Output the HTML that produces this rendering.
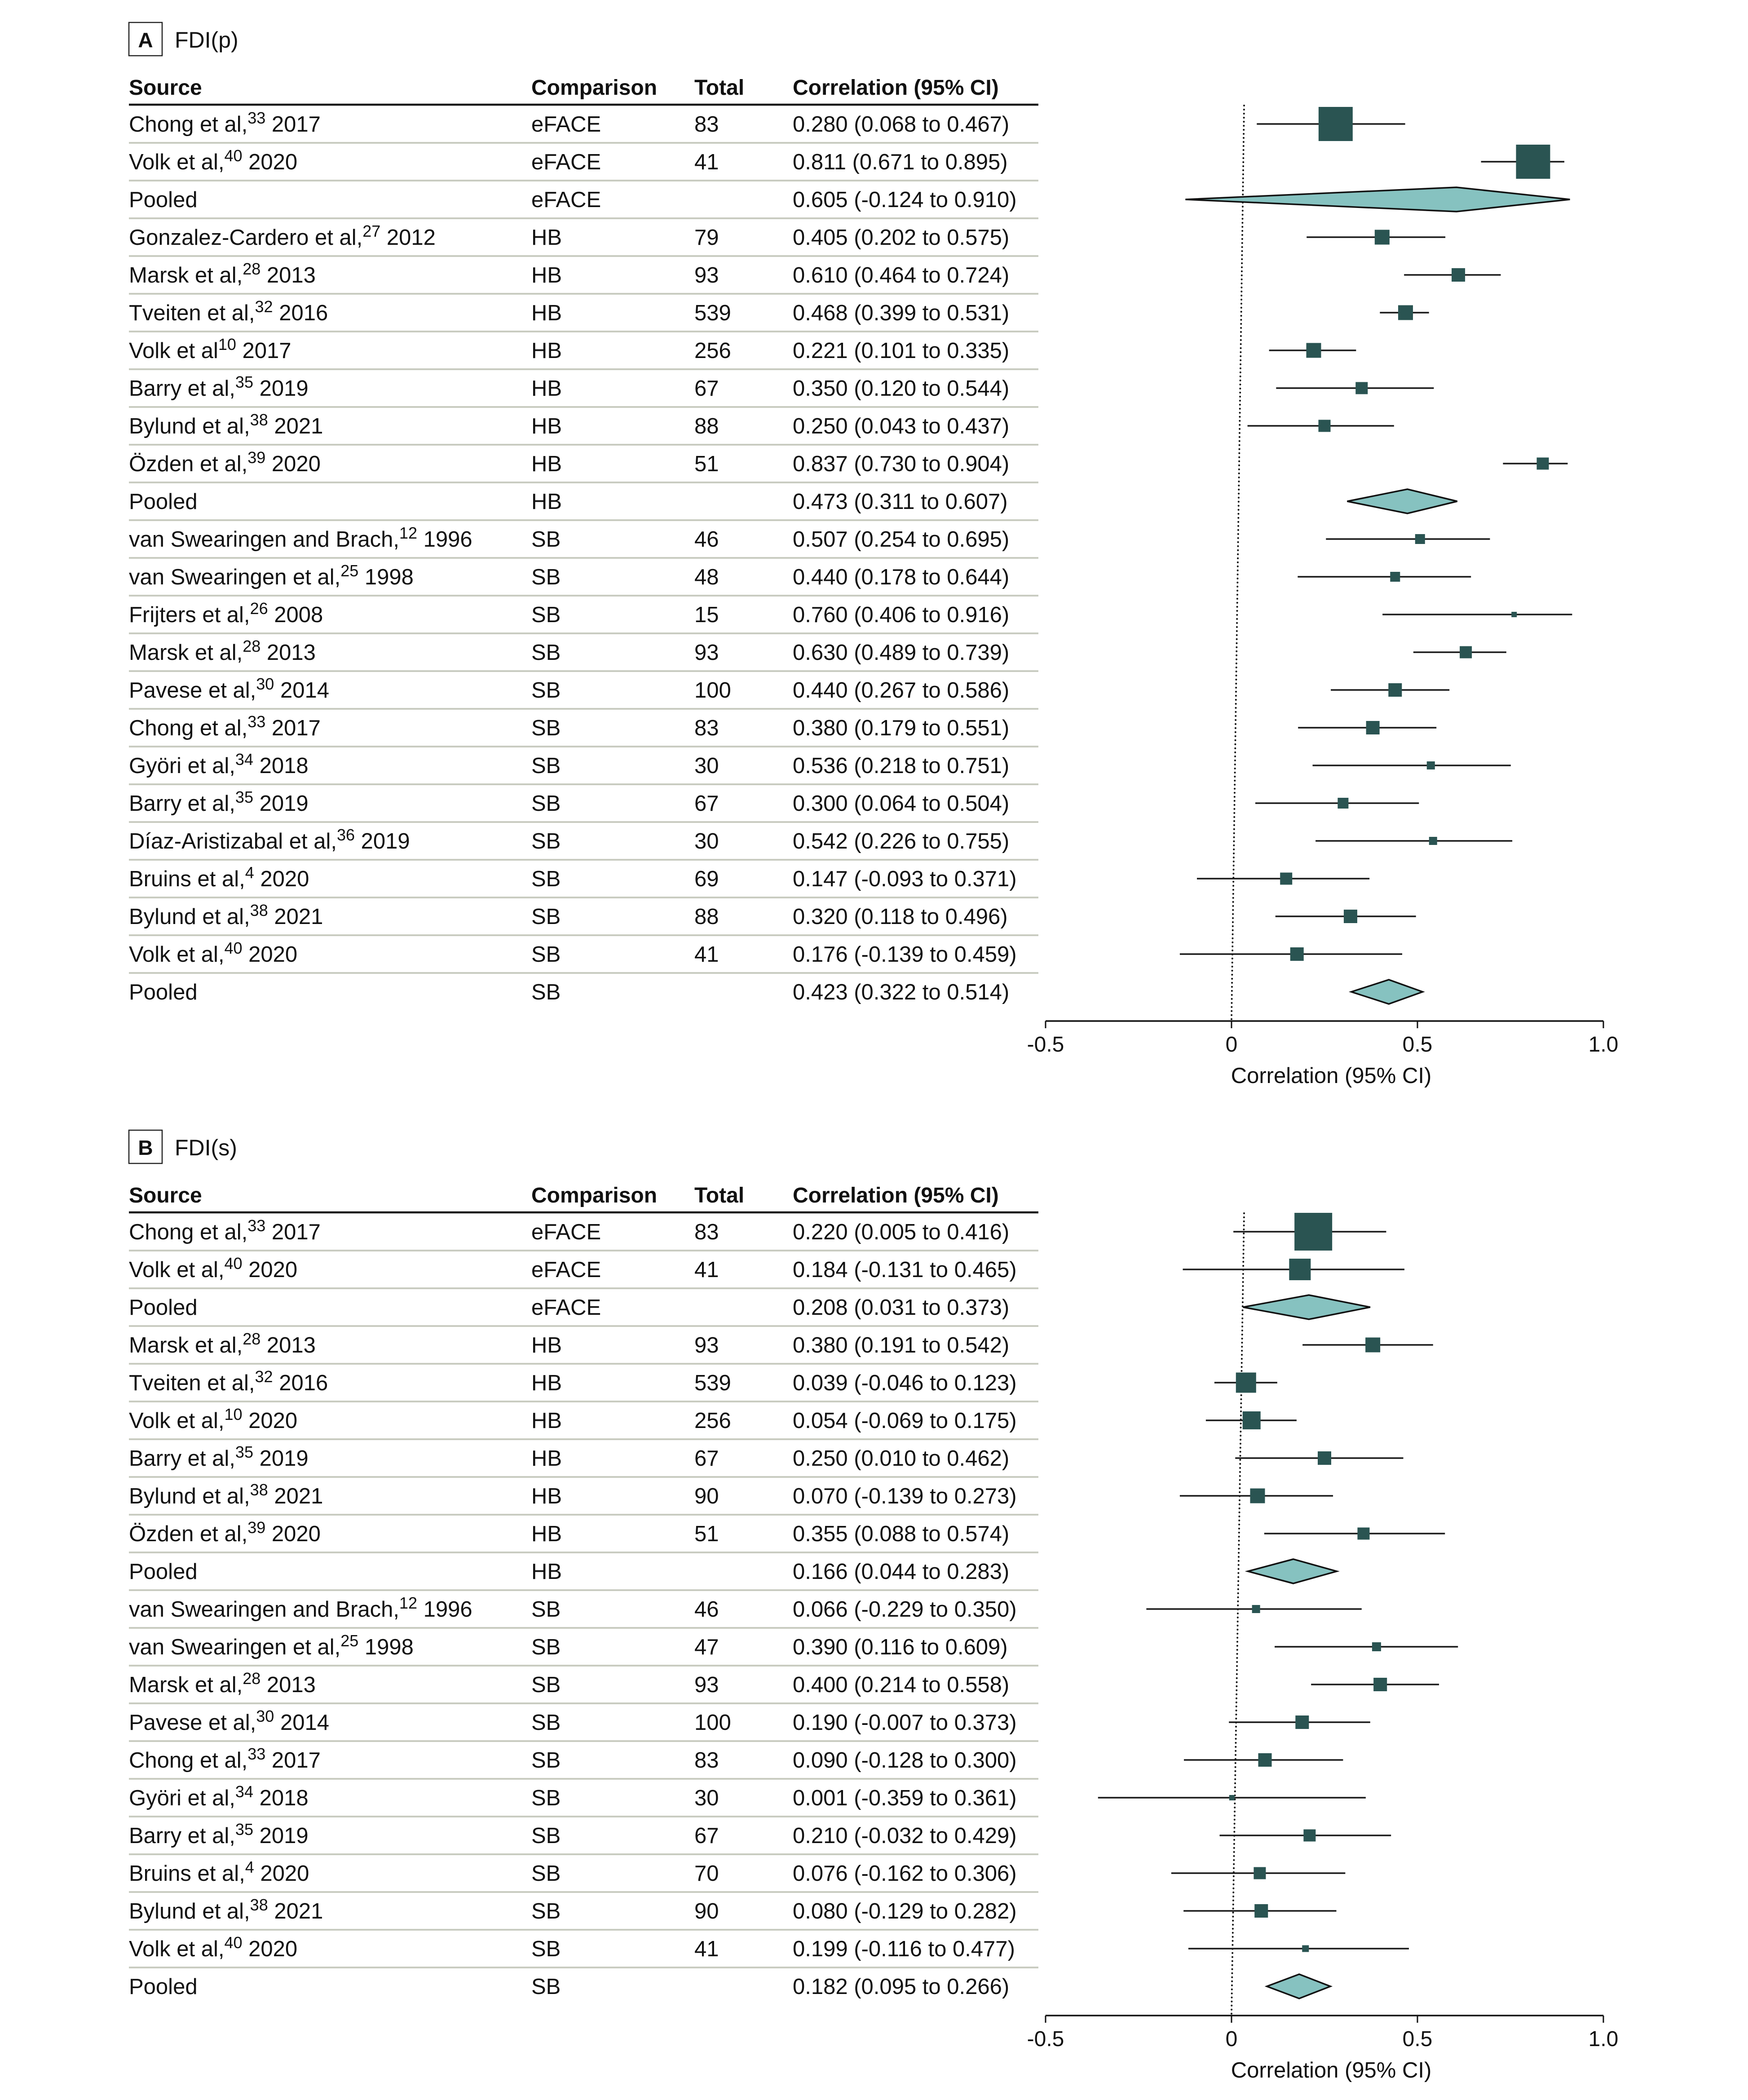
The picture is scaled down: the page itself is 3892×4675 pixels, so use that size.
<!DOCTYPE html>
<html><head><meta charset="utf-8">
<style>
html,body{margin:0;padding:0;background:#fff;}
svg{display:block;}
text{font-family:"Liberation Sans",sans-serif;fill:#111;}
</style></head>
<body>
<svg id="fig" width="3892" height="4675" viewBox="0 0 3892 4675" xmlns="http://www.w3.org/2000/svg"></svg>
<script>
// ===== Panel A data: FDI(p) =====
const aSources = ["Chong et al,|33| 2017","Volk et al,|40| 2020","Pooled","Gonzalez-Cardero et al,|27| 2012","Marsk et al,|28| 2013","Tveiten et al,|32| 2016","Volk et al|10| 2017","Barry et al,|35| 2019","Bylund et al,|38| 2021","Özden et al,|39| 2020","Pooled","van Swearingen and Brach,|12| 1996","van Swearingen et al,|25| 1998","Frijters et al,|26| 2008","Marsk et al,|28| 2013","Pavese et al,|30| 2014","Chong et al,|33| 2017","Györi et al,|34| 2018","Barry et al,|35| 2019","Díaz-Aristizabal et al,|36| 2019","Bruins et al,|4| 2020","Bylund et al,|38| 2021","Volk et al,|40| 2020","Pooled"];
const aComparisons = ["eFACE","eFACE","eFACE","HB","HB","HB","HB","HB","HB","HB","HB","SB","SB","SB","SB","SB","SB","SB","SB","SB","SB","SB","SB","SB"];
const aTotals = ["83","41","","79","93","539","256","67","88","51","","46","48","15","93","100","83","30","67","30","69","88","41",""];
const aEst = [0.280,0.811,0.605,0.405,0.610,0.468,0.221,0.350,0.250,0.837,0.473,0.507,0.440,0.760,0.630,0.440,0.380,0.536,0.300,0.542,0.147,0.320,0.176,0.423];
const aLo  = [0.068,0.671,-0.124,0.202,0.464,0.399,0.101,0.120,0.043,0.730,0.311,0.254,0.178,0.406,0.489,0.267,0.179,0.218,0.064,0.226,-0.093,0.118,-0.139,0.322];
const aHi  = [0.467,0.895,0.910,0.575,0.724,0.531,0.335,0.544,0.437,0.904,0.607,0.695,0.644,0.916,0.739,0.586,0.551,0.751,0.504,0.755,0.371,0.496,0.459,0.514];
const aPooled = [0,0,1,0,0,0,0,0,0,0,1,0,0,0,0,0,0,0,0,0,0,0,0,1];
const aWeight = [76,76,0,33,30,33,33,27,27,27,0,22,22,12,27,30,30,18,24,18,27,30,30,0];

// ===== Panel B data: FDI(s) =====
const bSources = ["Chong et al,|33| 2017","Volk et al,|40| 2020","Pooled","Marsk et al,|28| 2013","Tveiten et al,|32| 2016","Volk et al,|10| 2020","Barry et al,|35| 2019","Bylund et al,|38| 2021","Özden et al,|39| 2020","Pooled","van Swearingen and Brach,|12| 1996","van Swearingen et al,|25| 1998","Marsk et al,|28| 2013","Pavese et al,|30| 2014","Chong et al,|33| 2017","Györi et al,|34| 2018","Barry et al,|35| 2019","Bruins et al,|4| 2020","Bylund et al,|38| 2021","Volk et al,|40| 2020","Pooled"];
const bComparisons = ["eFACE","eFACE","eFACE","HB","HB","HB","HB","HB","HB","HB","SB","SB","SB","SB","SB","SB","SB","SB","SB","SB","SB"];
const bTotals = ["83","41","","93","539","256","67","90","51","","46","47","93","100","83","30","67","70","90","41",""];
const bEst = [0.220,0.184,0.208,0.380,0.039,0.054,0.250,0.070,0.355,0.166,0.066,0.390,0.400,0.190,0.090,0.001,0.210,0.076,0.080,0.199,0.182];
const bLo  = [0.005,-0.131,0.031,0.191,-0.046,-0.069,0.010,-0.139,0.088,0.044,-0.229,0.116,0.214,-0.007,-0.128,-0.359,-0.032,-0.162,-0.129,-0.116,0.095];
const bHi  = [0.416,0.465,0.373,0.542,0.123,0.175,0.462,0.273,0.574,0.283,0.350,0.609,0.558,0.373,0.300,0.361,0.429,0.306,0.282,0.477,0.266];
const bPooled = [0,0,1,0,0,0,0,0,0,1,0,0,0,0,0,0,0,0,0,0,1];
const bWeight = [84,48,0,33,45,40,30,33,27,0,18,20,30,30,30,12,27,27,30,15,0];

const axisTicks = [-0.5,0,0.5,1.0];
const axisTickLabels = ["-0.5","0","0.5","1.0"];

const NS = "http://www.w3.org/2000/svg";
const svg = document.getElementById('fig');
const X0 = 2742, UNIT = 828;
function xScale(v){ return X0 + v*UNIT; }
const ROW = 84.0;
function el(tag, attrs, parent){
  const e = document.createElementNS(NS, tag);
  for (const k in attrs) e.setAttribute(k, attrs[k]);
  (parent||svg).appendChild(e);
  return e;
}
function fmt(v){ return v.toFixed(3); }

function drawPanel(offY, letter, title, src, cmp, tot, est, lo, hi, pooled, wt, name){
  const g = el('g', {});
  
  
  const box = el('rect', {x:287, y:offY+50, width:74, height:74, fill:'none', stroke:'#222', 'stroke-width':2.5}, g);
  
  
  const lt = el('text', {x:324, y:offY+105, 'font-size':46, 'font-weight':'bold', 'text-anchor':'middle'}, g);
  lt.textContent = letter;
  
  
  const tt = el('text', {x:389, y:offY+106, 'font-size':50}, g);
  tt.textContent = title;
  
  
  const heads = [["Source",287],["Comparison",1183],["Total",1546],["Correlation (95% CI)",1765]];
  heads.forEach(h=>{
    const t = el('text', {x:h[1], y:offY+211, 'font-size':48, 'font-weight':'bold'}, g);
    t.textContent = h[0];
    
    
  });
  const rule = el('line', {x1:287, x2:2312, y1:offY+233, y2:offY+233, stroke:'#111', 'stroke-width':4.5}, g);
  
  
  const n = src.length;
  const firstY = offY + 276;
  const axisY = firstY + (n-1)*ROW + 65;
  const nl = el('line', {x1:X0+28, y1:offY+235, x2:X0, y2:axisY-4, stroke:'#111', 'stroke-width':4, 'stroke-dasharray':'0 9', 'stroke-linecap':'round'}, g);
  
  
  for (let i=0;i<n;i++){
    const cy = firstY + i*ROW;
    if (i<n-1){
      const s = el('line', {x1:287, x2:2312, y1:cy+42, y2:cy+42, stroke:'#c9ccc1', 'stroke-width':4}, g);
      
      
    }
    const parts = src[i].split('|');
    const st = el('text', {x:287, y:cy+17, 'font-size':49}, g);
    
    
    const t1 = el('tspan', {}, st); t1.textContent = parts[0];
    if (parts.length>1){
      const t2 = el('tspan', {'font-size':36, dy:-18}, st); t2.textContent = parts[1];
      const t3 = el('tspan', {dy:18}, st); t3.textContent = parts[2];
    }
    const ct = el('text', {x:1183, y:cy+17, 'font-size':49}, g);
    ct.textContent = cmp[i];
    
    
    const tn = el('text', {x:1546, y:cy+17, 'font-size':49}, g);
    tn.textContent = tot[i];
    
    
    const ci = el('text', {x:1765, y:cy+17, 'font-size':49}, g);
    ci.textContent = fmt(est[i]) + ' (' + fmt(lo[i]) + ' to ' + fmt(hi[i]) + ')';
    
    
    if (pooled[i]){
      const pts = [[xScale(lo[i]),cy],[xScale(est[i]),cy-27],[xScale(hi[i]),cy],[xScale(est[i]),cy+27]];
      const d = el('polygon', {points:pts.map(p=>p.join(',')).join(' '), fill:'#86c2c0', stroke:'#111', 'stroke-width':3.5, 'stroke-linejoin':'miter'}, g);
      
      
    } else {
      const l = el('line', {x1:xScale(lo[i]), x2:xScale(hi[i]), y1:cy, y2:cy, stroke:'#1a1a1a', 'stroke-width':3.5}, g);
      
      
      const w = wt[i];
      const r = el('rect', {x:xScale(est[i])-w/2, y:cy-w/2, width:w, height:w, fill:'#2a5452'}, g);
      
      
    }
  }
  const ax = el('line', {x1:xScale(axisTicks[0]), x2:xScale(axisTicks[axisTicks.length-1]), y1:axisY, y2:axisY, stroke:'#111', 'stroke-width':3.5}, g);
  
  
  axisTicks.forEach((v,k)=>{
    const tk = el('line', {x1:xScale(v), x2:xScale(v), y1:axisY, y2:axisY+16, stroke:'#111', 'stroke-width':3}, g);
    
    
    const tl = el('text', {x:xScale(v), y:axisY+68, 'font-size':48, 'text-anchor':'middle'}, g);
    tl.textContent = axisTickLabels[k];
    
    
  });
  const at = el('text', {x:xScale(0.25)+15, y:axisY+138, 'font-size':49, 'text-anchor':'middle'}, g);
  at.textContent = 'Correlation (95% CI)';
  
  
}

drawPanel(0, 'A', 'FDI(p)', aSources, aComparisons, aTotals, aEst, aLo, aHi, aPooled, aWeight, 'panel-a-fdi-p');
drawPanel(2466, 'B', 'FDI(s)', bSources, bComparisons, bTotals, bEst, bLo, bHi, bPooled, bWeight, 'panel-b-fdi-s');
</script>
</body></html>
